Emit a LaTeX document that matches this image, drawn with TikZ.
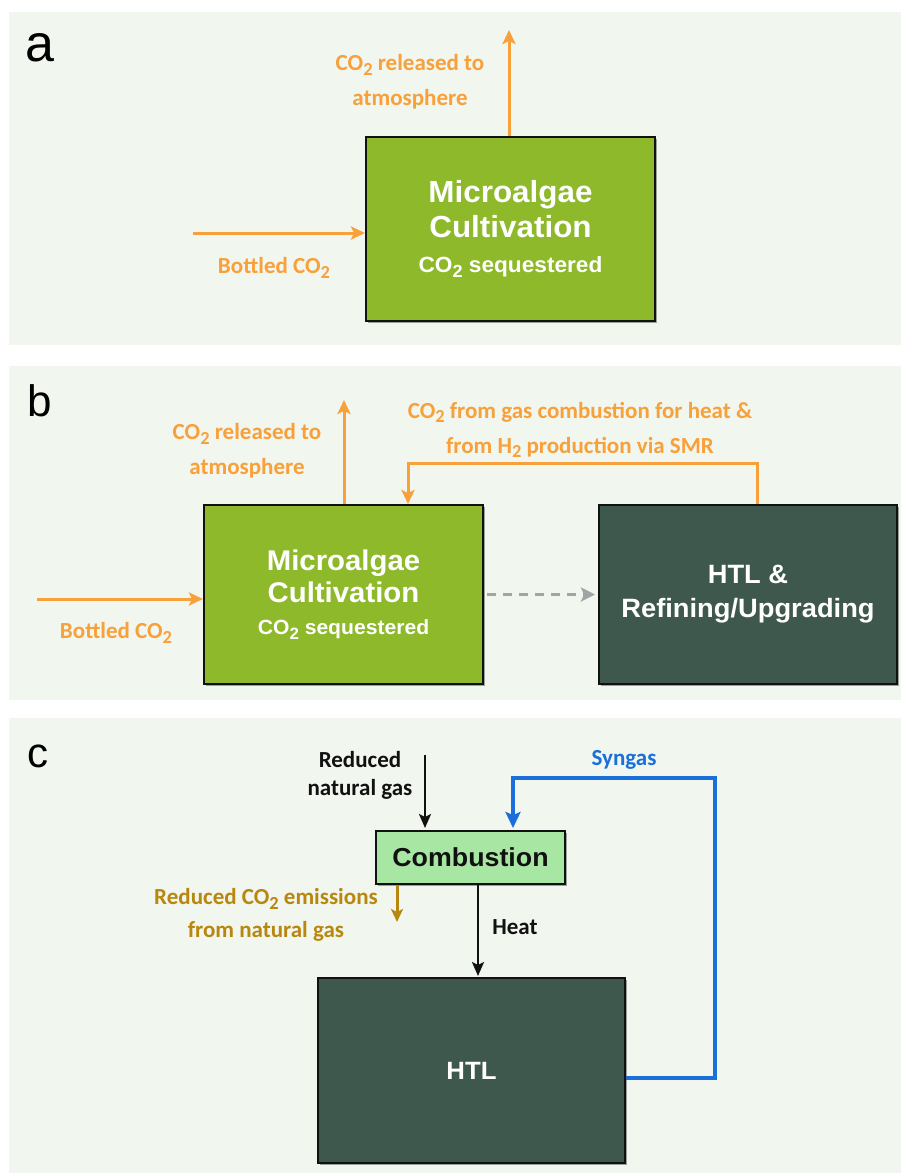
\documentclass[tikz,border=0pt]{standalone}
\usepackage{fontspec}
\setmainfont{Carlito}
\newfontfamily\arialf{Liberation Sans}[FakeStretch=1.03]
\newfontfamily\arialplain{Liberation Sans}
\usetikzlibrary{arrows.meta,shadows}
\newcommand{\sbt}[1]{\raisebox{-0.4ex}{\scalebox{0.8}{#1}}}
\definecolor{bgc}{HTML}{F1F6EE}
\definecolor{orangec}{HTML}{F8A03A}
\definecolor{goldc}{HTML}{B8870F}
\definecolor{bluec}{HTML}{1A6FDB}
\definecolor{greenc}{HTML}{8DB92B}
\definecolor{darkc}{HTML}{3E584D}
\definecolor{combc}{HTML}{A8E6A4}
\definecolor{grayc}{HTML}{A3A3A3}
\definecolor{blackc}{HTML}{111111}
\tikzset{
  boxbase/.style={draw=blackc, line width=2pt, inner sep=0pt, align=center,
    drop shadow={shadow xshift=2pt, shadow yshift=-2pt, opacity=0.35, fill=black}},
  greenbox/.style={boxbase, fill=greenc, text=white},
  darkbox/.style={boxbase, fill=darkc, text=white},
  combbox/.style={boxbase, fill=combc, text=blackc},
  lbl/.style={font=\bfseries\fontsize{23}{35}\selectfont, align=center, inner sep=0pt},
  olbl/.style={lbl, text=orangec},
  panel/.style={text=black, inner sep=0pt},
  oarr/.style={draw=orangec, line width=3pt, -{Stealth[length=14pt,width=13pt,inset=3pt]}},
  karr/.style={draw=blackc, line width=2.4pt, -{Stealth[length=14pt,width=12pt,inset=3pt]}},
  garr/.style={draw=goldc, line width=3pt, -{Stealth[length=13pt,width=12pt,inset=3pt]}},
  barr/.style={draw=bluec, line width=4.5pt, -{Stealth[length=16pt,width=15pt,inset=3pt]}},
  dasharr/.style={draw=grayc, line width=3.5pt, dash pattern=on 9pt off 7pt, -{Stealth[length=14pt,width=14pt,inset=3pt]}},
}
\begin{document}
\begin{tikzpicture}[x=1pt,y=-1pt]
\useasboundingbox (0,0) rectangle (901,1175);
\fill[white] (0,0) rectangle (901,1175);
\fill[bgc] (9,12) rectangle (901,345);
\fill[bgc] (9,366) rectangle (901,700);
\fill[bgc] (9,718) rectangle (901,1173);

% ---------- panel a ----------
\node[panel, font=\arialplain\fontsize{52}{52}\selectfont] (la) at (40,48) {a};
\node[greenbox, minimum width=289pt, minimum height=184pt, font=\arialf\bfseries\fontsize{30.5}{35}\selectfont] (ma) at (510.5,229) {Microalgae\\Cultivation\\\fontsize{22}{38}\selectfont CO\sbt{2} sequestered};
\coordinate (a-out) at (509,30);
\coordinate (a-in) at (193,233);
\draw[oarr] (ma.north -| a-out) -- (a-out);
\draw[oarr] (a-in) -- (a-in -| ma.west);
\node[olbl] (a-rel) at (410,82) {CO\sbt{2} released to\\atmosphere};
\node[olbl] (a-bot) at (274,268) {Bottled CO\sbt{2}};

% ---------- panel b ----------
\node[panel, font=\arialplain\fontsize{44}{44}\selectfont] (lb) at (40,401) {b};
\node[greenbox, minimum width=279pt, minimum height=179pt, font=\arialf\bfseries\fontsize{28.5}{32}\selectfont] (mb) at (343.5,594.5) {Microalgae\\Cultivation\\\fontsize{20.5}{39}\selectfont CO\sbt{2} sequestered};
\node[darkbox, minimum width=298pt, minimum height=179pt, font=\arialf\bfseries\fontsize{26.5}{34}\selectfont] (hb) at (748,594.5) {HTL \&\\Refining/Upgrading};
\coordinate (b-out) at (344,400);
\coordinate (b-in) at (37,599);
\draw[oarr] (mb.north -| b-out) -- (b-out);
\draw[oarr] ([xshift=9pt]hb.north) -- ++(0,-41) -| ([xshift=64.5pt]mb.north);
\draw[dasharr, shorten <=3pt, shorten >=3pt] (mb.east) -- (hb.west);
\draw[oarr] (b-in) -- (b-in -| mb.west);
\node[olbl] (b-rel) at (247,451) {CO\sbt{2} released to\\atmosphere};
\node[olbl] (b-fb) at (580,430) {CO\sbt{2} from gas combustion for heat \&\\from H\sbt{2} production via SMR};
\node[olbl] (b-bot) at (116,633) {Bottled CO\sbt{2}};

% ---------- panel c ----------
\node[panel, font=\arialplain\fontsize{42}{42}\selectfont] (lc) at (38,756) {c};
\node[combbox, minimum width=189pt, minimum height=53pt, font=\arialf\bfseries\fontsize{26}{28}\selectfont] (comb) at (470.5,857.5) {Combustion};
\node[darkbox, minimum width=307pt, minimum height=185pt, font=\arialf\bfseries\fontsize{25}{28}\selectfont] (htl) at (471.5,1070.5) {HTL};
\coordinate (c-ng) at (425,755);
\coordinate (c-syn) at (715,778);
\draw[karr, shorten >=2pt] (c-ng) -- (c-ng |- comb.north);
\draw[barr, shorten >=2pt] ([yshift=-7.5pt]htl.east) -| (c-syn) -| ([xshift=42.5pt]comb.north);
\draw[karr, shorten >=1pt] ([xshift=7.5pt]comb.south) -- ([xshift=7.5pt]comb.south |- htl.north);
\draw[garr] ([xshift=-73.5pt]comb.south) -- ++(0,37);
\node[lbl, text=blackc, font=\bfseries\fontsize{23}{28}\selectfont] (c-ngl) at (360,775) {Reduced\\natural gas};
\node[lbl, text=bluec] (c-synl) at (624,760) {Syngas};
\node[lbl, text=goldc, font=\bfseries\fontsize{23}{33}\selectfont] (c-co2) at (266,915) {Reduced CO\sbt{2} emissions\\from natural gas};
\node[lbl, text=blackc] (c-heat) at (515,927) {Heat};
\end{tikzpicture}
\end{document}
